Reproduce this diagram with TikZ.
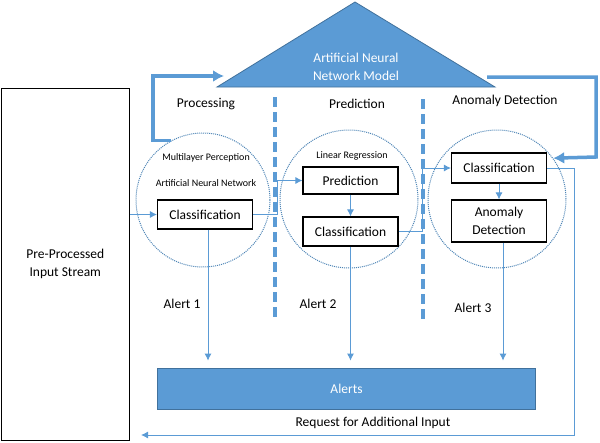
\documentclass[tikz,border=0pt]{standalone}
\usepackage{fontspec}
\setmainfont{Carlito}
\usetikzlibrary{arrows,arrows.meta,shapes,positioning}
\definecolor{annblue}{HTML}{5B9BD5}
\definecolor{annedge}{HTML}{41719C}

\begin{document}
\begin{tikzpicture}[x=1pt,y=-1pt]
      \tikzstyle{stage}=[draw=black, line width=1.1pt, fill=white, minimum width=95pt, inner sep=1pt, align=center, font=\fontsize{13.5}{18}\selectfont]
      \tikzstyle{zone}=[circle, draw=annblue!85!black, densely dotted, line width=1pt, inner sep=0pt]
      \tikzstyle{feed}=[draw=annblue, line width=3.5pt, -{Latex[length=11pt,width=12pt]}]
      \tikzstyle{link}=[draw=annblue, line width=0.9pt, -{Latex[length=7pt,width=7pt]}]
      \tikzstyle{divider}=[draw=annblue, line width=3.5pt, dash pattern=on 10pt off 5pt]
      \tikzstyle{heading}=[font=\fontsize{13.5}{18}\selectfont]
      \tikzstyle{small_text}=[font=\fontsize{10}{12}\selectfont]

      \useasboundingbox (0,0) rectangle (600,442);

      % input stream
      \node (input) [draw=black, line width=1.2pt, minimum width=128pt, minimum height=352pt, anchor=north west, align=center, heading] at (0.7,87.5) {Pre-Processed\\Input Stream};

      % model
      \coordinate (apex) at (355,2);
      \coordinate (baseL) at (217,87);
      \coordinate (baseR) at (495,87);
      \filldraw[fill=annblue, draw=annedge, line width=0.8pt] (apex) -- (baseR) -- (baseL) -- cycle;
      \node (model) [align=center, text=white, heading] at (356,67) {Artificial Neural\\Network Model};
      \coordinate (modelL) at (224,76);
      \coordinate (modelR) at (487,77);

      % stage headings and dividers
      \node (h_proc) [heading] at (206,104) {Processing};
      \node (h_pred) [heading] at (357,104) {Prediction};
      \node (h_anom) [heading] at (505,101) {Anomaly Detection};
      \draw[divider] (275,97) -- (275,318);
      \draw[divider] (423,99) -- (423,320);

      % processing
      \node (proc) [zone, minimum size=134pt] at (203,200) {};
      \node (mlp) [small_text] at (206,158) {Multilayer Perception};
      \node (ann) [small_text] at (206,183) {Artificial Neural Network};
      \node (cls1) [stage, minimum height=29pt] at (205,214.5) {Classification};

      % prediction
      \node (pred) [zone, minimum size=138pt] at (349,199) {};
      \node (linreg) [small_text] at (352,156) {Linear Regression};
      \node (predbox) [stage, minimum height=27pt] at (350.5,180.5) {Prediction};
      \node (cls2) [stage, minimum height=29pt] at (350.5,231.5) {Classification};

      % anomaly detection
      \node (anom) [zone, minimum size=138pt] at (497,199) {};
      \node (cls3) [stage, minimum height=30pt] at (499,168) {Classification};
      \node (anombox) [stage, minimum height=42pt] at (499,221) {Anomaly\\Detection};

      % alerts
      \node (alerts) [fill=annblue, draw=annedge, line width=0.8pt, minimum width=378pt, minimum height=41pt, text=white, heading] at (346.5,388.5) {Alerts};
      \node (alert1) [heading] at (182,304) {Alert 1};
      \node (alert2) [heading] at (318,304) {Alert 2};
      \node (alert3) [heading] at (473,308) {Alert 3};
      \node (request) [heading] at (373,423) {Request for Additional Input};
      \coordinate (reqEnd) at (141,435);

      % feedback loops
      \draw[feed] (proc.118) -| (153,76) -- (modelL);
      \draw[feed] (modelR) -| (596,157) -- (anom.36);

      % flow
      \draw[link] (input.east |- cls1.west) -- (cls1.west);
      \draw[link] (cls1.east) -- ++(24,0) |- (predbox.west);
      \draw[link] (predbox) -- (cls2);
      \draw[link] (cls2.east) -- ++(24,0) |- (cls3.west);
      \draw[link] (cls3) -- (anombox);
      \draw[link] (cls3.east) -| (574,435) -- (reqEnd);
      \draw[link, shorten >=7pt] ([xshift=3pt]cls1.south) -- ([xshift=3pt]cls1.south |- alerts.north);
      \draw[link, shorten >=7pt] (cls2.south) -- (cls2.south |- alerts.north);
      \draw[link, shorten >=7pt] ([xshift=4pt]anombox.south) -- ([xshift=4pt]anombox.south |- alerts.north);
\end{tikzpicture}
\end{document}
